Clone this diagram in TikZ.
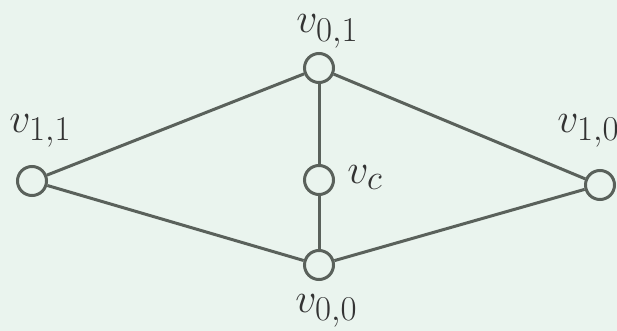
\documentclass[tikz,border=0pt]{standalone}
\usepackage{xcolor}
\definecolor{bg}{HTML}{EAF4EE}
\definecolor{ln}{HTML}{5A615B}
\definecolor{tx}{HTML}{333333}
\begin{document}
\begin{tikzpicture}[x=1pt,y=-1pt,
  vtx/.style={circle,draw=ln,line width=3pt,fill=bg,minimum size=29pt,inner sep=0pt},
  edge/.style={draw=ln,line width=3pt},
  lbl/.style={anchor=base west,inner sep=0pt,text=tx,font=\Huge,scale=1.68,transform shape}]
\fill[bg] (0,0) rectangle (617,331);
\useasboundingbox (0,0) rectangle (617,331);
\node[vtx] (v11) at (32,181) {};
\node[vtx] (v01) at (319,68) {};
\node[vtx] (vc) at (319,180) {};
\node[vtx] (v00) at (319,265) {};
\node[vtx] (v10) at (600,185) {};
\draw[edge] (v11) -- (v01);
\draw[edge] (v11) -- (v00);
\draw[edge] (v01) -- (vc);
\draw[edge] (vc) -- (v00);
\draw[edge] (v01) -- (v10);
\draw[edge] (v00) -- (v10);
\node[lbl] (l11) at (9,132) {$v_{1,1}$};
\node[lbl] (l01) at (296,33) {$v_{0,1}$};
\node[lbl] (lc) at (347,183) {$v_{c}$};
\node[lbl] (l00) at (295,312) {$v_{0,0}$};
\node[lbl] (l10) at (557,132) {$v_{1,0}$};
\end{tikzpicture}
\end{document}
